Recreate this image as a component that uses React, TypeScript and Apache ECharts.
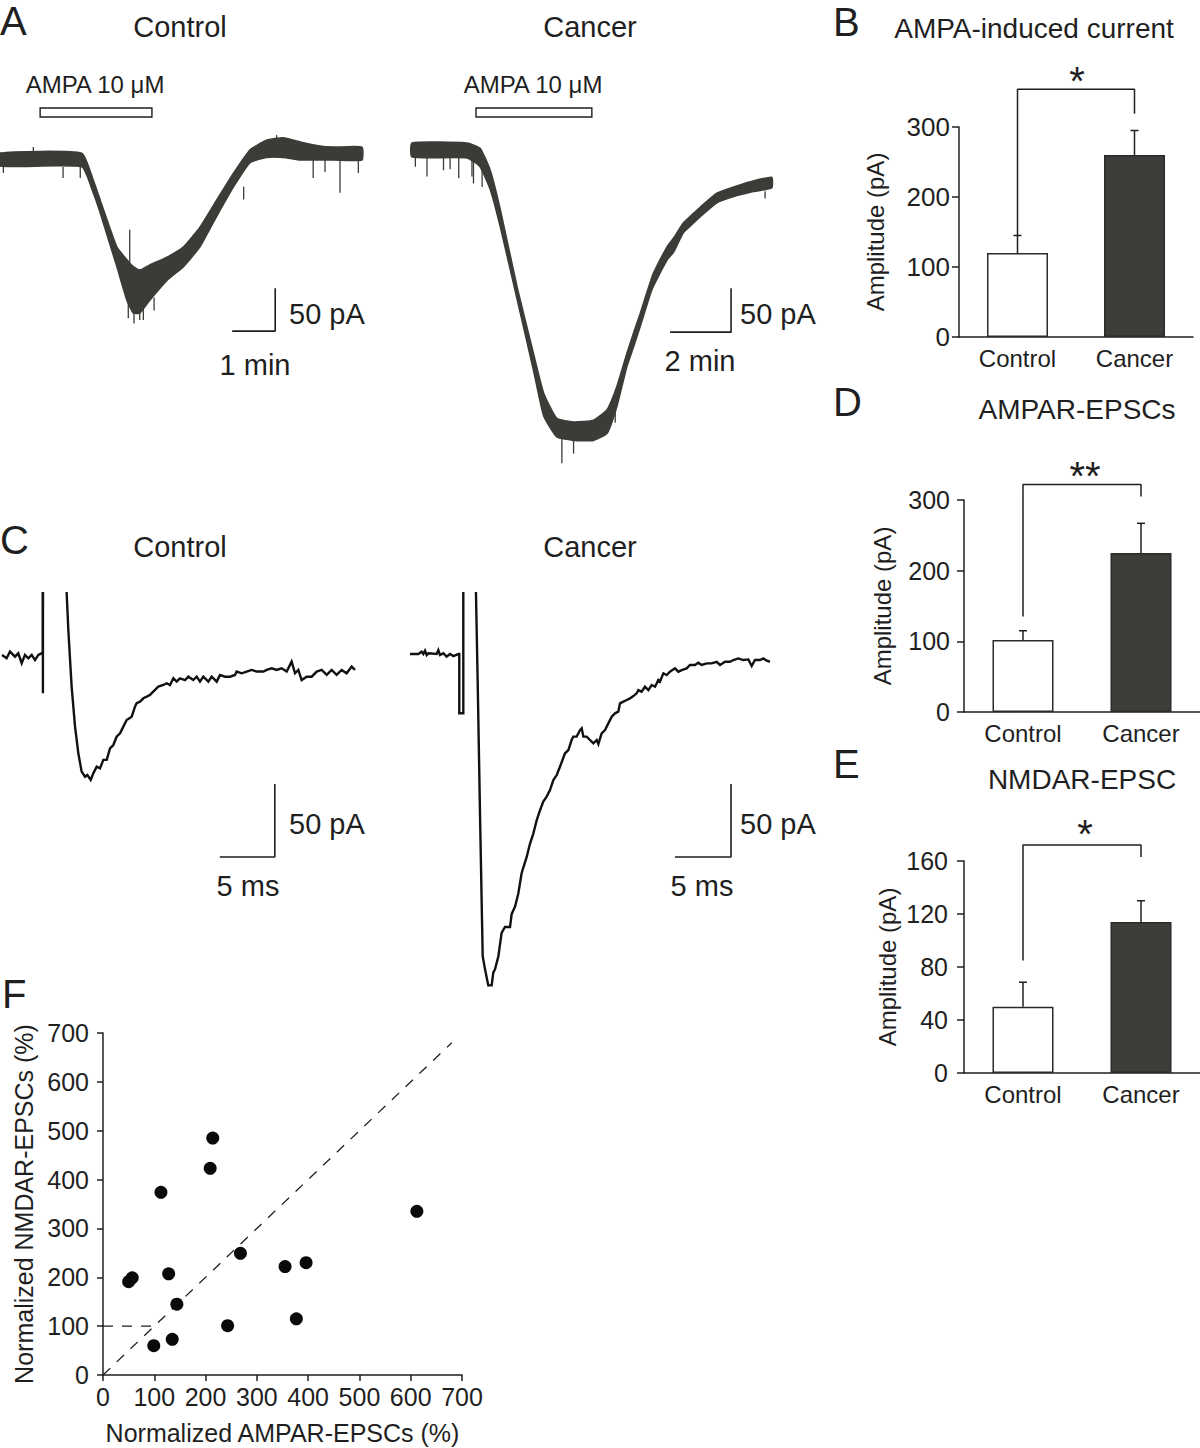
import React, { useEffect, useRef } from "react";
import * as echarts from "echarts";

const FONT = "'Liberation Sans', Arial, Helvetica, sans-serif";
const INK = "#1f1f1f";
const TRACE = "#3b3c37";
const DARK_BAR = "#3d3e39";

// ---------- Panel A : AMPA-induced current (envelope of the noisy recording), time in s, current in pA
const ctlA_t = [0, 114, 130, 140, 163, 177, 186, 195, 209, 233, 256, 279, 302, 326, 349, 372, 395, 419, 442, 465, 505];
const ctlA_upper = [8, 8, -23, -47, -101, -116, -124, -128, -122, -113, -101, -78, -47, -15, 12, 23, 26, 21, 17, 15, 15];
const ctlA_lower = [-7, -8, -38, -62, -124, -163, -178, -178, -163, -140, -124, -101, -66, -31, -3, 3, 3, 0, 0, 0, 0];
const ctlA_spikes = [
  [4.7, -7, -15], [46.5, 8, 15], [88, -8, -21], [112, -8, -21], [179, -163, -184], [181, -120, -81],
  [187, -178, -190], [195, -178, -186], [200, -170, -186], [215, -160, -175], [340, -31, -46],
  [386, 23, 29], [437, 0, -21], [453.5, 0, -14], [474.4, 0, -38], [500, 0, -15],
];
const canA_t = [0, 108, 134, 154, 174, 207, 239, 259, 285, 318, 357, 384, 403, 423, 436, 449, 469, 475, 502, 515, 534, 554, 567, 600, 633, 666, 708];
const canA_upper = [8, 8, 2, -23, -68, -156, -231, -276, -305, -309, -307, -295, -269, -231, -208, -186, -150, -140, -110, -100, -83, -72, -65, -49, -42, -36, -31];
const canA_lower = [-8, -9, -19, -45, -88, -170, -250, -302, -326, -330, -330, -322, -292, -246, -224, -201, -164, -155, -125, -116, -94, -83, -76, -60, -53, -48, -43];
const canA_spikes = [
  [6.6, -8, -19], [29.5, -8, -30], [62, -8, -23], [75, -8, -22], [92, -9, -32], [118, -10, -30],
  [121, -11, -38], [138, -22, -42], [295, -326, -356], [318, -330, -345], [400, -295, -310], [695, -47, -55],
];
const ampaWindowCtl = [56, 212]; // s
const ampaWindowCan = [126, 354]; // s

// ---------- Panel C : evoked EPSCs, time in ms, current in pA (values beyond the frame are the clipped stimulus artefact)
const ctlC_t = [0, 0.42, 0.73, 1.18, 1.48, 1.79, 2.09, 2.39, 2.7, 3.0, 3.3, 3.6, 3.7, 3.7, 3.72, 3.75, 5.88,
  6.03, 6.33, 6.64, 6.94, 7.24, 7.55, 7.76, 8.06, 8.3, 8.61, 8.91, 9.21, 9.52, 9.82, 10.12, 10.42, 10.73, 11.03, 11.33, 11.79,
  12.09, 12.24, 12.55, 12.85, 13.15, 13.45, 13.91, 14.21, 14.67, 14.97, 15.27, 15.58, 15.88, 16.18, 16.64, 16.94, 17.39, 17.7, 18.0, 18.3,
  18.76, 19.06, 19.52, 19.82, 20.27, 20.73, 21.18, 21.33, 21.79, 22.24, 22.7, 23.15, 23.76, 24.06, 24.52, 24.97, 25.42, 25.88, 26.33, 26.64,
  26.94, 27.24, 27.7, 28.15, 28.61, 29.06, 29.52, 29.97, 30.42, 30.88, 31.33, 31.79, 32.09];
const ctlC_i = [1.4, -0.9, 3.7, 0.2, 2.5, -4.3, 1.4, -0.9, 1.4, -2.1, 1.4, 2.5, 2.5, 400, -24.9, 400, 43.6,
  18.5, -20.3, -47.7, -66.0, -78.5, -82.0, -80.8, -84.2, -79.7, -75.1, -76.3, -70.5, -70.5, -62.6, -60.3, -54.6, -52.3, -47.7, -43.2, -40.9,
  -34.0, -31.7, -30.6, -28.3, -27.2, -26.0, -22.6, -20.3, -19.2, -18.0, -19.2, -14.6, -16.9, -14.6, -15.8, -13.5, -15.8, -13.5, -16.9, -13.5,
  -16.9, -13.5, -16.9, -12.3, -13.5, -13.5, -12.3, -10.0, -11.2, -10.0, -8.9, -10.0, -10.0, -8.9, -7.8, -8.9, -7.8, -10.0, -3.2, -11.2,
  -8.9, -15.8, -13.5, -13.5, -10.0, -8.9, -12.3, -8.9, -12.3, -8.9, -11.2, -6.6, -8.9];
const canC_t = [0, 0.74, 1.04, 1.19, 1.34, 1.49, 1.64, 2.38, 2.53, 2.68, 2.98, 3.27, 3.57, 3.87, 4.32, 4.4,
  4.4, 4.76, 4.76, 5.89,
  6.04, 6.25, 6.49, 6.7, 6.99, 7.29, 7.44, 7.59, 7.89, 8.18, 8.48, 8.93, 9.08, 9.38, 9.67, 9.97, 10.42, 10.71, 11.01, 11.31,
  11.61, 11.9, 12.2, 12.5, 12.8, 13.1, 13.39, 13.84, 14.14, 14.43, 14.58, 14.88, 15.18, 15.33, 15.48, 15.77, 16.07, 16.37, 16.67, 16.82,
  17.11, 17.41, 17.71, 18.01, 18.3, 18.6, 18.75, 19.05, 19.35, 19.64, 19.94, 20.24, 20.39, 20.68, 20.98, 21.28, 21.58, 21.88, 22.17, 22.32,
  22.62, 22.92, 23.21, 23.66, 23.96, 24.26, 24.7, 25.0, 25.45, 25.74, 26.04, 26.49, 26.93, 27.38, 27.68, 28.13, 28.57, 28.87, 29.32, 29.76,
  30.21, 30.51, 30.8, 31.25, 31.55, 31.85, 32.14];
const canC_i = [0, 0, 1.6, 0, 2.3, -0.7, 0.5, 0, 2.7, -0.7, 0.5, -1.8, 0, -1.4, 0, 0,
  -40.6, -40.6, 400, 41.6,
  -17.8, -109, -207, -216, -227, -227, -218, -216, -207, -191, -187, -187, -178, -173, -164, -150, -139, -130, -123, -114,
  -107, -101, -97.7, -93.2, -86.3, -82.9, -77.2, -68.0, -65.8, -58.9, -56.6, -56.6, -52.1, -50.9, -56.6, -56.6, -58.9, -61.2, -58.9, -61.6,
  -54.3, -52.1, -47.5, -42.9, -40.6, -39.5, -33.8, -32.6, -31.5, -30.4, -28.8, -26.9, -24.7, -25.8, -22.4, -24.7, -21.2, -22.4, -17.8, -18.9,
  -13.2, -14.4, -12.1, -9.8, -12.1, -11.0, -9.8, -7.5, -7.5, -5.9, -7.5, -6.4, -6.4, -5.3, -7.5, -5.3, -5.3, -4.1, -3.0, -4.1,
  -3.7, -8.2, -4.1, -4.1, -3.0, -4.6, -5.3];

// ---------- Panels B, D, E : mean ± SEM (pA)
const groups = ["Control", "Cancer"];
const ampaMean = [120, 260];
const ampaSem = [25, 35];
const amparMean = [102, 225];
const amparSem = [13, 42];
const nmdarMean = [50, 114];
const nmdarSem = [18.5, 16];

// ---------- Panel F : normalized EPSCs (%)
const fAmpar = [214, 209, 113, 612, 268, 355, 396, 128, 57, 50, 144, 243, 377, 135, 99];
const fNmdar = [485, 423, 374, 335, 249, 222, 230, 207, 199, 191, 145, 101, 115, 73, 60];
const unityLine = [0, 680];

const zip = (a: number[], b: number[]) => a.map((v, i) => [v, b[i]]);

function band(gi: number, t: number[], up: number[], lo: number[]) {
  return {
    type: "custom", xAxisIndex: gi, yAxisIndex: gi, silent: true, z: 3,
    data: [[t[0], up[0]]],
    renderItem: (_p: any, api: any) => {
      const pts: number[][] = [];
      for (let i = 0; i < t.length; i++) pts.push(api.coord([t[i], up[i]]));
      for (let i = t.length - 1; i >= 0; i--) pts.push(api.coord([t[i], lo[i]]));
      return { type: "polygon", shape: { points: pts, smooth: 0.15 }, style: { fill: TRACE, stroke: TRACE, lineWidth: 1.5, lineJoin: "round" } };
    },
  };
}

function spikes(gi: number, arr: number[][]) {
  return {
    type: "custom", xAxisIndex: gi, yAxisIndex: gi, silent: true, z: 3,
    data: arr,
    encode: { x: 0, y: [1, 2] },
    renderItem: (_p: any, api: any) => {
      const a = api.coord([api.value(0), api.value(1)]);
      const b = api.coord([api.value(0), api.value(2)]);
      return { type: "line", shape: { x1: a[0], y1: a[1], x2: b[0], y2: b[1] }, style: { stroke: TRACE, lineWidth: 1.3 } };
    },
  };
}

function applicationBar(gi: number, win: number[], yTop: number, yBot: number) {
  return {
    type: "custom", xAxisIndex: gi, yAxisIndex: gi, silent: true, z: 4,
    data: [[win[0], win[1]]],
    renderItem: (_p: any, api: any) => {
      const a = api.coord([api.value(0), yTop]);
      const b = api.coord([api.value(1), yBot]);
      return { type: "rect", shape: { x: a[0], y: a[1], width: b[0] - a[0], height: b[1] - a[1] }, style: { fill: "#fff", stroke: INK, lineWidth: 1.4 } };
    },
  };
}

function scaleBar(gi: number, corner: number[], dx: number, dy: number) {
  return {
    type: "line", xAxisIndex: gi, yAxisIndex: gi, silent: true, clip: false, z: 5,
    data: [[corner[0] - dx, corner[1]], [corner[0], corner[1]], [corner[0], corner[1] + dy]],
    symbol: "none", lineStyle: { color: INK, width: 1.6 },
  };
}

function hiddenX(gi: number, min: number, max: number) {
  return { type: "value", gridIndex: gi, min, max, show: false };
}

function barX(gi: number) {
  return {
    type: "category", gridIndex: gi, data: groups,
    axisLine: { show: true, onZero: false, lineStyle: { color: INK, width: 1.5 } },
    axisTick: { show: false },
    axisLabel: { color: INK, fontSize: 24, fontFamily: FONT, margin: 9 },
    splitLine: { show: false },
  };
}
function barY(gi: number, max: number, interval: number, nameGap: number, margin: number, size: number) {
  return {
    type: "value", gridIndex: gi, min: 0, max, interval,
    axisLine: { show: true, lineStyle: { color: INK, width: 1.5 } },
    axisTick: { show: true, length: 7, lineStyle: { color: INK, width: 1.5 } },
    axisLabel: { color: INK, fontSize: size, fontFamily: FONT, margin },
    splitLine: { show: false },
    name: "Amplitude (pA)", nameLocation: "middle", nameRotate: 90, nameGap,
    nameTextStyle: { color: INK, fontSize: 24, fontFamily: FONT },
  };
}

function barSeries(gi: number, mean: number[]) {
  return {
    type: "bar", xAxisIndex: gi, yAxisIndex: gi, barWidth: 61, silent: true, z: 2,
    data: mean.map((v, i) => ({
      value: v,
      itemStyle: i === 0
        ? { color: "#ffffff", borderColor: "#2a2a2a", borderWidth: 1.5 }
        : { color: DARK_BAR, borderColor: "#2a2a2a", borderWidth: 1.5 },
    })),
  };
}

function errSeries(gi: number, mean: number[], sem: number[]) {
  return {
    type: "custom", xAxisIndex: gi, yAxisIndex: gi, silent: true, z: 4,
    data: mean.map((m, i) => [i, m, sem[i]]),
    encode: { x: 0, y: 1 },
    renderItem: (_p: any, api: any) => {
      const i = api.value(0), m = api.value(1), e = api.value(2);
      const a = api.coord([i, m]);
      const b = api.coord([i, m + e]);
      return {
        type: "group",
        children: [
          { type: "line", shape: { x1: a[0], y1: a[1], x2: b[0], y2: b[1] }, style: { stroke: INK, lineWidth: 1.5 } },
          { type: "line", shape: { x1: b[0] - 4, y1: b[1], x2: b[0] + 4, y2: b[1] }, style: { stroke: INK, lineWidth: 1.5 } },
        ],
      };
    },
  };
}

function bracket(gi: number, leftBottom: number, top: number, rightBottom: number) {
  return {
    type: "line", xAxisIndex: gi, yAxisIndex: gi, silent: true, clip: false, z: 5,
    data: [[0, leftBottom], [0, top], [1, top], [1, rightBottom]],
    symbol: "none", lineStyle: { color: INK, width: 1.5 },
  };
}

function txt(text: string, x: number, y: number, size: number, align = "center", weight = "normal") {
  return {
    type: "text", x, y, silent: true, z: 10,
    style: {
      text, font: `${weight} ${size}px ${FONT}`, fill: INK,
      textAlign: align, textVerticalAlign: "middle", align, verticalAlign: "middle",
    },
  };
}

const option: any = {
  animation: false,
  backgroundColor: "#ffffff",
  textStyle: { fontFamily: FONT },
  grid: [
    { left: 0, top: 99.8, width: 365.5, height: 240.8, outerBoundsMode: "none" },
    { left: 412, top: 99.84, width: 365.8, height: 366.96, outerBoundsMode: "none" },
    { left: 2, top: 593.3, width: 363, height: 268.1, outerBoundsMode: "none" },
    { left: 410, top: 593.3, width: 380.8, height: 403.8, outerBoundsMode: "none" },
    { left: 959, top: 127, width: 234, height: 210, outerBoundsMode: "none" },
    { left: 964, top: 500, width: 236, height: 212, outerBoundsMode: "none" },
    { left: 964, top: 861, width: 236, height: 212, outerBoundsMode: "none" },
    { left: 103, top: 1033, width: 359, height: 342, outerBoundsMode: "none" },
  ],
  xAxis: [
    hiddenX(0, 0, 510),
    hiddenX(1, 0, 720),
    hiddenX(2, 0, 33),
    hiddenX(3, 0, 34),
    barX(4),
    barX(5),
    barX(6),
    {
      type: "value", gridIndex: 7, min: 0, max: 700, interval: 100,
      axisLine: { show: true, onZero: false, lineStyle: { color: INK, width: 1.5 } },
      axisTick: { show: true, length: 6, lineStyle: { color: INK, width: 1.5 } },
      axisLabel: { color: INK, fontSize: 25, fontFamily: FONT, margin: 9 },
      splitLine: { show: false },
      name: "Normalized AMPAR-EPSCs (%)", nameLocation: "middle", nameGap: 45,
      nameTextStyle: { color: INK, fontSize: 25, fontFamily: FONT },
    },
  ],
  yAxis: [
    hiddenX(0, -210, 70),
    hiddenX(1, -360, 57),
    hiddenX(2, -140, 43.6),
    hiddenX(3, -235, 41.6),
    barY(4, 300, 100, 72, 9, 26),
    barY(5, 300, 100, 70, 14, 25),
    barY(6, 160, 40, 65, 16, 25),
    {
      type: "value", gridIndex: 7, min: 0, max: 700, interval: 100,
      axisLine: { show: true, onZero: false, lineStyle: { color: INK, width: 1.5 } },
      axisTick: { show: true, length: 6, lineStyle: { color: INK, width: 1.5 } },
      axisLabel: { color: INK, fontSize: 25, fontFamily: FONT, margin: 14 },
      splitLine: { show: false },
      name: "Normalized NMDAR-EPSCs (%)", nameLocation: "middle", nameRotate: 90, nameGap: 67,
      nameTextStyle: { color: INK, fontSize: 25, fontFamily: FONT },
    },
  ],
  series: [
    // Panel A
    band(0, ctlA_t, ctlA_upper, ctlA_lower),
    spikes(0, ctlA_spikes),
    applicationBar(0, ampaWindowCtl, 60.5, 50),
    scaleBar(0, [384, -199], 60, 50),
    band(1, canA_t, canA_upper, canA_lower),
    spikes(1, canA_spikes),
    applicationBar(1, ampaWindowCan, 47.7, 37.5),
    scaleBar(1, [628, -207], 120, 50),
    // Panel C
    {
      type: "line", xAxisIndex: 2, yAxisIndex: 2, data: zip(ctlC_t, ctlC_i), symbol: "none", clip: true, silent: true,
      lineStyle: { color: "#111111", width: 2.4, join: "miter" },
    },
    scaleBar(2, [24.8, -137], 5, 50),
    {
      type: "line", xAxisIndex: 3, yAxisIndex: 3, data: zip(canC_t, canC_i), symbol: "none", clip: true, silent: true,
      lineStyle: { color: "#111111", width: 2.4, join: "miter" },
    },
    scaleBar(3, [28.66, -139], 5, 50),
    // Panel B
    barSeries(4, ampaMean),
    errSeries(4, ampaMean, ampaSem),
    bracket(4, ampaMean[0] + ampaSem[0], 354, 319),
    // Panel D
    barSeries(5, amparMean),
    errSeries(5, amparMean, amparSem),
    bracket(5, 135, 322, 305),
    // Panel E
    barSeries(6, nmdarMean),
    errSeries(6, nmdarMean, nmdarSem),
    bracket(6, 85, 172, 163),
    // Panel F
    {
      type: "line", xAxisIndex: 7, yAxisIndex: 7, data: [[unityLine[0], unityLine[0]], [unityLine[1], unityLine[1]]],
      symbol: "none", silent: true, lineStyle: { color: INK, width: 1.3, type: [10, 9] }, z: 2,
    },
    {
      type: "line", xAxisIndex: 7, yAxisIndex: 7, data: [[0, 100], [100, 100]],
      symbol: "none", silent: true, lineStyle: { color: INK, width: 1.3, type: [10, 9] }, z: 2,
    },
    {
      type: "scatter", xAxisIndex: 7, yAxisIndex: 7, data: zip(fAmpar, fNmdar), symbol: "circle", symbolSize: 13,
      silent: true, itemStyle: { color: "#0a0a0a", opacity: 1 }, z: 3,
    },
  ],
  graphic: [
    txt("A", 0, 21, 40, "left"),
    txt("Control", 180, 27, 29),
    txt("Cancer", 590, 27, 29),
    txt("AMPA 10 \u03bcM", 95, 84, 24),
    txt("AMPA 10 \u03bcM", 533, 84, 24),
    txt("50 pA", 289, 314, 29, "left"),
    txt("1 min", 255, 365, 29),
    txt("50 pA", 740, 314, 29, "left"),
    txt("2 min", 700, 361, 29),
    txt("B", 833, 22, 40, "left"),
    txt("AMPA-induced current", 1034, 28, 28),
    txt("*", 1077, 81, 40),
    txt("C", 0, 540, 40, "left"),
    txt("Control", 180, 547, 29),
    txt("Cancer", 590, 547, 29),
    txt("50 pA", 289, 824, 29, "left"),
    txt("5 ms", 248, 886, 29),
    txt("50 pA", 740, 824, 29, "left"),
    txt("5 ms", 702, 886, 29),
    txt("D", 833, 402, 40, "left"),
    txt("AMPAR-EPSCs", 1077, 409, 28),
    txt("**", 1085, 476, 40),
    txt("E", 833, 764, 40, "left"),
    txt("NMDAR-EPSC", 1082, 779, 28),
    txt("*", 1085, 834, 40),
    txt("F", 2, 994, 40, "left"),
  ],
};

export default function App() {
  const ref = useRef<HTMLDivElement>(null);
  useEffect(() => {
    if (!ref.current) return;
    const chart = echarts.init(ref.current, null, { renderer: "svg" });
    chart.setOption(option);
    return () => chart.dispose();
  }, []);
  return (
    <div
      ref={ref}
      style={{ position: "absolute", left: 0, top: 0, width: 1200, height: 1448, background: "#fff" }}
    />
  );
}
